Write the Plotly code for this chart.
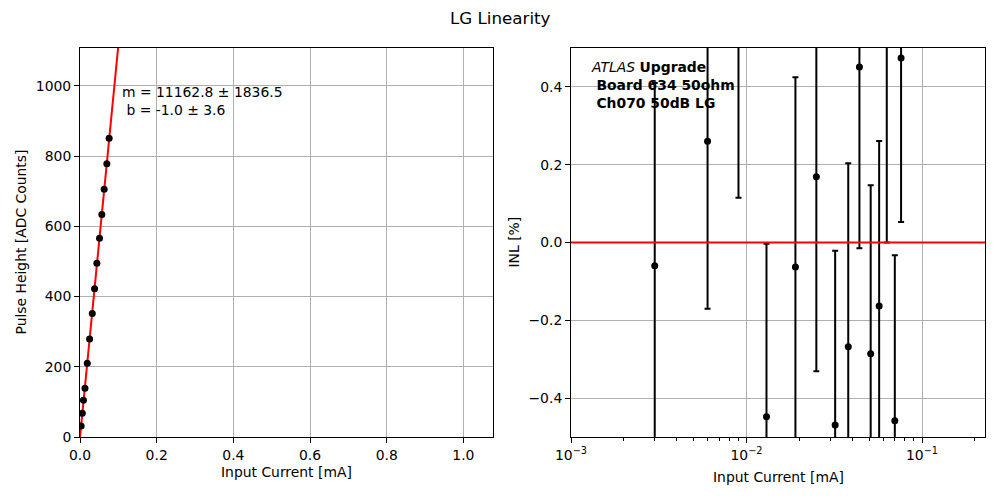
import plotly.graph_objects as go
from plotly.subplots import make_subplots

# ---- data ----
input_current = [0.003, 0.006, 0.009, 0.013, 0.019, 0.025, 0.032, 0.038,
                 0.044, 0.051, 0.057, 0.063, 0.070, 0.076]
pulse_height = [31.3, 67.5, 104.6, 138.8, 210, 279, 352, 422,
                495, 566, 634, 706, 778, 851]
inl = [-0.06, 0.26, 0.555, -0.448, -0.063, 0.169, -0.469, -0.268,
       0.451, -0.286, -0.163, 0.52, -0.458, 0.474]
inl_err = [0.47, 0.43, 0.44, 0.445, 0.488, 0.50, 0.448, 0.472,
           0.466, 0.433, 0.424, 0.52, 0.425, 0.421]
fit_m = 11162.8
fit_m_err = 1836.5
fit_b = -1.0
fit_b_err = 3.6
fit_x = [0.0, 0.12]
fit_y = [fit_m * v + fit_b for v in fit_x]

left_xticks = [0.0, 0.2, 0.4, 0.6, 0.8, 1.0]
left_yticks = [0, 200, 400, 600, 800, 1000]
right_xticks = [0.001, 0.01, 0.1]
right_xticktext = ["10<sup>\u22123</sup>", "10<sup>\u22122</sup>", "10<sup>\u22121</sup>"]
right_minor = [k * 10 ** e for e in (-3, -2, -1) for k in range(2, 10) if k * 10 ** e < 0.23]
right_yticks = [-0.4, -0.2, 0.0, 0.2, 0.4]

FONT = "DejaVu Sans"
FS = 13.9
OFF = 8  # page body margin
W, H = 1000 - OFF, 500 - OFF

fig = make_subplots(rows=1, cols=2)

fig.add_trace(go.Scatter(x=fit_x, y=fit_y, mode="lines",
                         line=dict(color="red", width=2), showlegend=False),
              row=1, col=1)
fig.add_trace(go.Scatter(x=input_current, y=pulse_height, mode="markers",
                         marker=dict(color="black", size=7), showlegend=False),
              row=1, col=1)

fig.add_trace(go.Scatter(x=input_current, y=inl, mode="markers",
                         marker=dict(color="black", size=7),
                         error_y=dict(type="data", array=inl_err, color="black",
                                      thickness=2, width=3),
                         showlegend=False),
              row=1, col=2)
fig.add_shape(type="line", xref="x2 domain", yref="y2", x0=0, x1=1, y0=0, y1=0,
              line=dict(color="red", width=2))

def px_x(p):
    return (p - OFF) / W

def px_y(p):
    return 1 - (p - OFF) / H

axis_common = dict(showline=True, linecolor="black", linewidth=1, mirror=True,
                   ticks="outside", ticklen=5, tickwidth=1, tickcolor="black",
                   showgrid=True, gridcolor="#b0b0b0", gridwidth=1,
                   zeroline=False, automargin=False,
                   tickfont=dict(family=FONT, size=FS, color="black"))

fig.update_layout(
    width=W, height=H,
    margin=dict(l=0, r=0, t=0, b=0, autoexpand=False),
    paper_bgcolor="white", plot_bgcolor="white",
    font=dict(family=FONT, size=FS, color="black"),
    xaxis=dict(domain=[px_x(80), px_x(492.5)], range=[0, 1.076],
               tickvals=left_xticks, tickformat=".1f", **axis_common),
    yaxis=dict(domain=[px_y(437), px_y(48)], range=[0, 1108],
               tickvals=left_yticks, **axis_common),
    xaxis2=dict(domain=[px_x(571), px_x(985)], type="log", range=[-3, -0.641],
                tickvals=right_xticks, ticktext=right_xticktext,
                minor=dict(tickvals=right_minor, ticks="outside", ticklen=3,
                           tickwidth=1, tickcolor="black", showgrid=False),
                **axis_common),
    yaxis2=dict(domain=[px_y(437), px_y(48)], range=[-0.5, 0.5],
                tickvals=right_yticks, tickformat=".1f", **axis_common),
)

annotations = [
    dict(text="LG Linearity", x=px_x(500), y=px_y(18), xref="paper", yref="paper",
         showarrow=False, font=dict(family=FONT, size=16.7, color="black"),
         xanchor="center", yanchor="middle"),
    dict(text="Input Current [mA]", x=px_x(286), y=px_y(472), xref="paper", yref="paper",
         showarrow=False, font=dict(family=FONT, size=FS), xanchor="center", yanchor="middle"),
    dict(text="Input Current [mA]", x=px_x(778), y=px_y(477), xref="paper", yref="paper",
         showarrow=False, font=dict(family=FONT, size=FS), xanchor="center", yanchor="middle"),
    dict(text="Pulse Height [ADC Counts]", x=px_x(21), y=px_y(242.5), xref="paper", yref="paper",
         showarrow=False, textangle=-90, font=dict(family=FONT, size=FS),
         xanchor="center", yanchor="middle"),
    dict(text="INL [%]", x=px_x(514), y=px_y(242.5), xref="paper", yref="paper",
         showarrow=False, textangle=-90, font=dict(family=FONT, size=FS),
         xanchor="center", yanchor="middle"),
    dict(text=f"m = {fit_m:.1f} \u00b1 {fit_m_err:.1f}<br>\u00a0b = {fit_b:.1f} \u00b1 {fit_b_err:.1f}",
         x=0.098, y=0.912, xref="x domain", yref="y domain", showarrow=False,
         align="left", xanchor="left", yanchor="top",
         font=dict(family=FONT, size=FS, color="black")),
    dict(text="<i>ATLAS</i> <b>Upgrade</b><br>\u00a0<b>Board 634 50ohm</b><br>\u00a0<b>Ch070 50dB LG</b>",
         x=0.043, y=0.978, xref="x2 domain", yref="y2 domain", showarrow=False,
         align="left", xanchor="left", yanchor="top",
         font=dict(family=FONT, size=FS, color="black")),
]
fig.update_layout(annotations=annotations)

fig.write_html("out.html")
